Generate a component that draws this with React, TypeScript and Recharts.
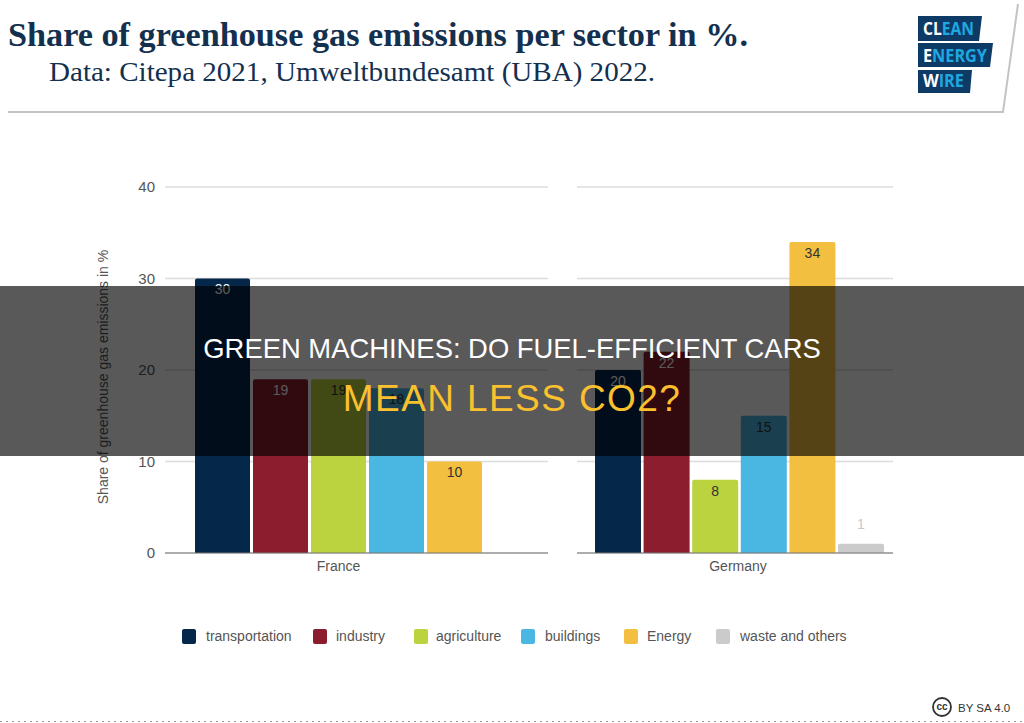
import { Bar, BarChart, CartesianGrid, LabelList, XAxis, YAxis } from "recharts";

const sectors = ["transportation", "industry", "agriculture", "buildings", "Energy", "waste and others"];
const sectorColors = ["#04274a", "#8c1d2f", "#bbd33e", "#4ab7e2", "#f3bf40", "#cbcbcb"];
const labelColors = ["#ffffff", "#ffffff", "#333333", "#333333", "#333333", "#c8c8c8"];
const franceValues = [30, 19, 19, 18, 10];
const germanyValues = [20, 22, 8, 15, 34, 1];
const yTicks = [0, 10, 20, 30, 40];
const legendSwatchX = [182, 313, 414, 521, 624, 716];
const legendTextX = [206, 336, 436, 545, 647, 740];

const axisFont = "'Liberation Sans', Arial, sans-serif";

function toRow(name: string, values: number[]) {
    const row: Record<string, string | number> = { name };
    values.forEach((v, i) => {
        row[sectors[i]] = v;
    });
    return row;
}

function Panel({ name, values, width, left, showY, padding, gap }: any) {
    return (
        <div style={{ position: "absolute", left, top: 170 }}>
            <BarChart
                width={width}
                height={430}
                data={[toRow(name, values)]}
                margin={{ top: 17, right: 0, bottom: 0, left: 0 }}
                barCategoryGap={0}
                barGap={gap}
            >
                <CartesianGrid vertical={false} stroke="#dcdcdc" strokeWidth={1.5} />
                <XAxis
                    dataKey="name"
                    height={47}
                    padding={padding}
                    tickLine={false}
                    axisLine={{ stroke: "#777", strokeWidth: 1.2 }}
                    tick={{ fontSize: 14, fill: "#555", fontFamily: axisFont }}
                />
                <YAxis
                    hide={!showY}
                    width={165}
                    domain={[0, 40]}
                    ticks={yTicks}
                    tickLine={false}
                    axisLine={false}
                    tickMargin={4}
                    tick={{ fontSize: 15, fill: "#555", fontFamily: axisFont }}
                    label={{
                        value: "Share of greenhouse gas emissions in %",
                        angle: -90,
                        position: "insideLeft",
                        offset: 103,
                        dy: 7,
                        textAnchor: "middle",
                        style: { fontSize: 14, fill: "#555", fontFamily: axisFont },
                    }}
                />
                {values.map((_: number, i: number) => (
                    <Bar
                        key={sectors[i]}
                        dataKey={sectors[i]}
                        fill={sectorColors[i]}
                        radius={[2, 2, 0, 0]}
                        isAnimationActive={false}
                    >
                        <LabelList
                            dataKey={sectors[i]}
                            position={sectors[i] === "waste and others" ? "top" : "insideTop"}
                            offset={sectors[i] === "waste and others" ? 15 : 6}
                            fill={labelColors[i]}
                            fontSize={14}
                            fontFamily={axisFont}
                        />
                    </Bar>
                ))}
            </BarChart>
        </div>
    );
}

function Header() {
    return (
        <svg width={1024} height={130} style={{ position: "absolute", left: 0, top: 0 }}>
            <polyline points="8,112 1003,112 1018,4" fill="none" stroke="#c4c4c4" strokeWidth={2} />
            <text x={8} y={46} textLength={740} lengthAdjust="spacingAndGlyphs" fontFamily="'Liberation Serif', serif" fontWeight={700} fontSize={33} fill="#14304f">
                Share of greenhouse gas emissions per sector in %.
            </text>
            <text x={49} y={81} textLength={606} lengthAdjust="spacingAndGlyphs" fontFamily="'Liberation Serif', serif" fontSize={28} fill="#14304f">
                Data: Citepa 2021, Umweltbundesamt (UBA) 2022.
            </text>
            <polygon points="918,16 982,16 979,41 918,41" fill="#0e3a66" />
            <polygon points="918,43 993,43 990,67 918,67" fill="#0e3a66" />
            <polygon points="918,70 972,70 970,93 918,93" fill="#0e3a66" />
            <g fontFamily="'Open Sans', sans-serif" fontWeight={700} fontSize={17}>
                <text x={923} y={35} fill="#1fa8e0" textLength={51} lengthAdjust="spacingAndGlyphs">
                    <tspan fill="#fff">CL</tspan>EAN
                </text>
                <text x={923} y={62} fill="#1fa8e0" textLength={64} lengthAdjust="spacingAndGlyphs">
                    <tspan fill="#fff">E</tspan>NERGY
                </text>
                <text x={923} y={87} fill="#1fa8e0" textLength={41} lengthAdjust="spacingAndGlyphs">
                    <tspan fill="#fff">W</tspan>IRE
                </text>
            </g>
        </svg>
    );
}

function SectorLegend() {
    return (
        <>
            {sectors.map((s, i) => (
                <div key={s}>
                    <div
                        style={{
                            position: "absolute",
                            left: legendSwatchX[i],
                            top: 629,
                            width: 14,
                            height: 15,
                            borderRadius: 2,
                            background: sectorColors[i],
                        }}
                    />
                    <div
                        style={{
                            position: "absolute",
                            left: legendTextX[i],
                            top: 628,
                            fontFamily: axisFont,
                            fontSize: 14,
                            color: "#555",
                            whiteSpace: "nowrap",
                        }}
                    >
                        {s}
                    </div>
                </div>
            ))}
        </>
    );
}

function Footer() {
    return (
        <svg width={1024} height={43} style={{ position: "absolute", left: 0, top: 680 }}>
            <circle cx={942} cy={27} r={9} fill="none" stroke="#333" strokeWidth={1.8} />
            <text x={942} y={30} textAnchor="middle" fontFamily={axisFont} fontWeight={700} fontSize={10} fill="#333">
                cc
            </text>
            <text x={958} y={32} fontFamily={axisFont} fontSize={11.5} fill="#333">
                BY SA 4.0
            </text>
            <line x1={0} y1={41.5} x2={1024} y2={41.5} stroke="#999" strokeWidth={1} strokeDasharray="2 4" />
        </svg>
    );
}

export default function App() {
    return (
        <div style={{ position: "absolute", left: 0, top: 0, width: 1024, height: 723, background: "#fff", overflow: "hidden" }}>
            <Header />
            <Panel name="France" values={franceValues} width={548} left={0} showY padding={{ left: 30, right: 66 }} gap={3} />
            <Panel name="Germany" values={germanyValues} width={316} left={577} showY={false} padding={{ left: 18, right: 12 }} gap={2.6} />
            <SectorLegend />
            <Footer />
            <div
                style={{
                    position: "absolute",
                    left: 0,
                    top: 286,
                    width: 1024,
                    height: 170,
                    background: "rgba(0,0,0,0.65)",
                    textAlign: "center",
                    fontFamily: axisFont,
                }}
            >
                <div style={{ position: "absolute", top: 43, width: 1024, lineHeight: "40px", fontSize: 27.4, color: "#fff" }}>
                    GREEN MACHINES: DO FUEL-EFFICIENT CARS
                </div>
                <div style={{ position: "absolute", top: 88, width: 1024, lineHeight: "50px", fontSize: 37, letterSpacing: 1.4, color: "#fbc02d" }}>
                    MEAN LESS CO2?
                </div>
            </div>
        </div>
    );
}
